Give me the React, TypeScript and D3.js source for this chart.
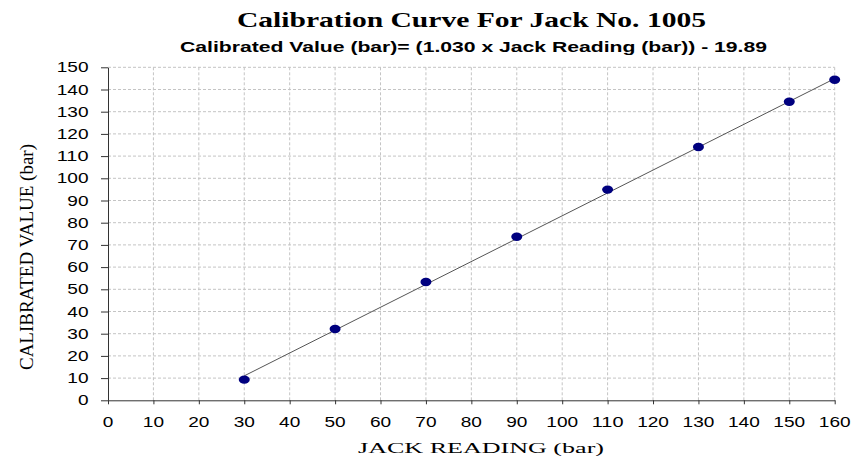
import React, { useEffect, useRef } from "react";
import * as d3 from "d3";

// data
const jackReading = [30, 50, 70, 90, 110, 130, 150, 160];
const calibratedValue = [9.3, 32.1, 53.3, 73.7, 94.9, 114.1, 134.5, 144.4];
// the fitted line printed in the subtitle
const fitSlope = 1.03;
const fitIntercept = -19.89;

const xTicks = d3.range(0, 161, 10);
const yTicks = d3.range(0, 151, 10);

const title = "Calibration Curve For Jack No. 1005";
const subtitle = "Calibrated Value (bar)= (1.030 x Jack Reading (bar)) - 19.89";
const xTitle = "JACK READING (bar)";
const yTitle = "CALIBRATED VALUE (bar)";

const W = 852;
const H = 456;

export default function App() {
  const svgRef = useRef<SVGSVGElement>(null);

  useEffect(() => {
    const svg = d3.select(svgRef.current);
    svg.selectAll("*").remove();

    const x = d3.scaleLinear().domain([0, 160]).range([108, 834.7]);
    const y = d3.scaleLinear().domain([0, 150]).range([400.3, 67.3]);

    // grid
    const grid = svg.append("g").attr("stroke", "#c4c4c4").attr("stroke-dasharray", "3,2");
    grid.selectAll(".gx")
      .data(xTicks.filter(d => d > 0))
      .join("line")
      .attr("x1", d => x(d)).attr("x2", d => x(d))
      .attr("y1", y(0)).attr("y2", y(150));
    grid.selectAll(".gy")
      .data(yTicks.filter(d => d > 0))
      .join("line")
      .attr("x1", x(0)).attr("x2", x(160))
      .attr("y1", d => y(d)).attr("y2", d => y(d));

    // axes
    const xAxis = d3.axisBottom(x).tickValues(xTicks).tickSizeInner(4).tickSizeOuter(0).tickFormat(() => "");
    const yAxis = d3.axisLeft(y).tickValues(yTicks).tickSizeInner(7).tickSizeOuter(0).tickFormat(() => "");
    const gx = svg.append("g").attr("transform", `translate(0,${y(0)})`).call(xAxis);
    const gy = svg.append("g").attr("transform", `translate(${x(0)},0)`).call(yAxis);
    [gx, gy].forEach(g => {
      g.select(".domain").attr("stroke", "#333");
      g.selectAll(".tick line").attr("stroke", "#333");
    });

    // tick labels (stretched like the original)
    svg.append("g")
      .selectAll("text")
      .data(xTicks)
      .join("text")
      .attr("x", d => x(d))
      .attr("y", 427)
      .attr("text-anchor", "middle")
      .attr("font-family", "Liberation Sans, Arial, sans-serif")
      .attr("font-size", 14)
      .attr("fill", "#000")
      .attr("textLength", d => String(d).length * 10.6)
      .attr("lengthAdjust", "spacingAndGlyphs")
      .text(d => d);
    svg.append("g")
      .selectAll("text")
      .data(yTicks)
      .join("text")
      .attr("x", 88.5)
      .attr("y", d => y(d) + 5)
      .attr("text-anchor", "end")
      .attr("font-family", "Liberation Sans, Arial, sans-serif")
      .attr("font-size", 14)
      .attr("fill", "#000")
      .attr("textLength", d => String(d).length * 10.6)
      .attr("lengthAdjust", "spacingAndGlyphs")
      .text(d => d);

    // fitted line
    const x0 = d3.min(jackReading) as number;
    const x1 = d3.max(jackReading) as number;
    const line = d3.line<number>().x(d => x(d)).y(d => y(fitSlope * d + fitIntercept));
    svg.append("path")
      .attr("d", line([x0, x1]))
      .attr("fill", "none")
      .attr("stroke", "#555")
      .attr("stroke-width", 1);

    // points
    svg.append("g")
      .selectAll("ellipse")
      .data(jackReading)
      .join("ellipse")
      .attr("cx", d => x(d))
      .attr("cy", (d, i) => y(calibratedValue[i]))
      .attr("rx", 5.5)
      .attr("ry", 4.2)
      .attr("fill", "#00007f");

    // titles
    svg.append("text")
      .attr("x", 471.5).attr("y", 27)
      .attr("text-anchor", "middle")
      .attr("font-family", "Liberation Serif, Times New Roman, serif")
      .attr("font-weight", "bold")
      .attr("font-size", 22)
      .attr("textLength", 469)
      .attr("lengthAdjust", "spacingAndGlyphs")
      .text(title);
    svg.append("text")
      .attr("x", 473.5).attr("y", 52)
      .attr("text-anchor", "middle")
      .attr("font-family", "Liberation Sans, Arial, sans-serif")
      .attr("font-weight", "bold")
      .attr("font-size", 14)
      .attr("textLength", 587)
      .attr("lengthAdjust", "spacingAndGlyphs")
      .text(subtitle);
    svg.append("text")
      .attr("x", 481).attr("y", 453)
      .attr("text-anchor", "middle")
      .attr("font-family", "Liberation Serif, Times New Roman, serif")
      .attr("font-size", 15)
      .attr("textLength", 246)
      .attr("lengthAdjust", "spacingAndGlyphs")
      .text(xTitle);
    svg.append("text")
      .attr("transform", `translate(33,257) rotate(-90)`)
      .attr("text-anchor", "middle")
      .attr("font-family", "Liberation Serif, Times New Roman, serif")
      .attr("font-size", 19)
      .attr("textLength", 226)
      .attr("lengthAdjust", "spacingAndGlyphs")
      .text(yTitle);
  }, []);

  return (
    <svg
      ref={svgRef}
      width={W}
      height={H}
      style={{ position: "absolute", left: 0, top: 0, background: "#fff" }}
    />
  );
}
